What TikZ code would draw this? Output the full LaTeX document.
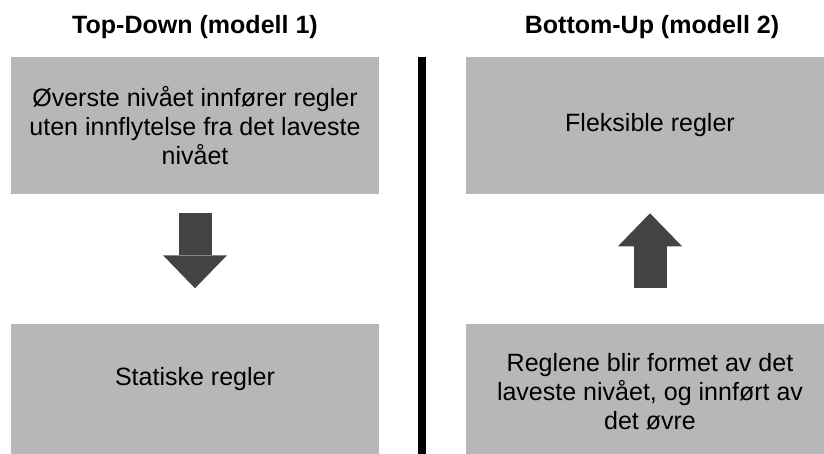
\documentclass[tikz,border=0pt]{standalone}
\usepackage{fontspec}
\setmainfont{Liberation Sans}
\usetikzlibrary{positioning,arrows.meta}

\definecolor{ccbox}{RGB}{183,183,183}
\definecolor{ccarrow}{RGB}{67,67,67}

\begin{document}
\begin{tikzpicture}[
  box/.style={fill=ccbox, minimum width=9.2cm, minimum height=3.425cm, inner sep=0pt, align=center, font=\fontsize{17.8}{20.6}\selectfont},
  heading/.style={anchor=base, font=\fontsize{17.8}{20.6}\selectfont\bfseries},
  blockarrow/.style={ccarrow, line width=0.825cm, -{Triangle[width=1.6cm, length=0.825cm, line width=0pt]}},
  divider/.style={black, line width=0.2cm}
]

  % Frame
  \useasboundingbox (0,0) rectangle (20.6,11.35);
  \clip (0,0) rectangle (20.6,11.35);

  % Top-Down
  \node[box] (top1) at (4.875,8.2125) {Øverste nivået innfører regler\\uten innflytelse fra det laveste\\nivået};
  \node[box, below=3.225cm of top1, text depth=0.78cm] (bot1) {Statiske regler};
  \node[heading] (head1) at ([yshift=0.575cm]top1.north) {Top-Down (modell 1)};
  \draw[blockarrow] ([yshift=-0.475cm]top1.south) -- ([yshift=0.875cm]bot1.north);

  % Bottom-Up
  \node[box] (top2) at (16.25,8.2125) {Fleksible regler};
  \node[box, below=3.225cm of top2] (bot2) {Reglene blir formet av det\\laveste nivået, og innført av\\det øvre};
  \node[heading] (head2) at ([xshift=0.05cm, yshift=0.575cm]top2.north) {Bottom-Up (modell 2)};
  \draw[blockarrow] ([yshift=0.875cm]bot2.north) -- ([yshift=-0.475cm]top2.south);

  % Divider
  \draw[divider] (10.5375,9.925) -- (10.5375,0);

\end{tikzpicture}
\end{document}
